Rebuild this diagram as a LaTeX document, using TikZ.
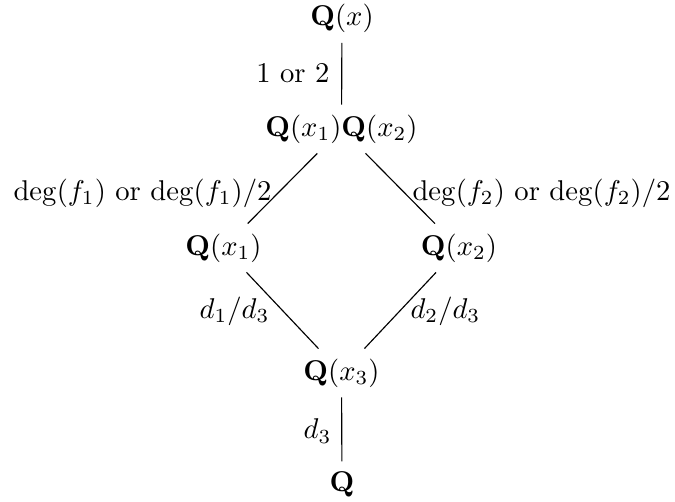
\documentclass[tikz,border=0pt]{standalone}
\begin{document}
\begin{tikzpicture}[x=0.3497pt,y=-0.3497pt,
  field/.style={inner sep=3.33pt},
  lab/.style={inner sep=0pt},
  conn/.style={draw=black, line width=0.4pt}]
\useasboundingbox (0,0) rectangle (675,502);
\node[field] (Qx) at (342,18.5) {$\mathbf{Q}(x)$};
\node[field] (Q12) at (341.5,129) {$\mathbf{Q}(x_1)\mathbf{Q}(x_2)$};
\node[field] (Q1) at (223.5,248) {$\mathbf{Q}(x_1)$};
\node[field] (Q2) at (459,248) {$\mathbf{Q}(x_2)$};
\node[field] (Q3) at (341.5,373) {$\mathbf{Q}(x_3)$};
\node[field] (Q) at (342,484) {$\mathbf{Q}$};
\draw[conn] (Qx) -- (Q12);
\draw[conn] (Q12) -- (Q1);
\draw[conn] (Q12) -- (Q2);
\draw[conn] (Q1) -- (Q3);
\draw[conn] (Q2) -- (Q3);
\draw[conn] (Q3) -- (Q);
\node[lab, anchor=east] (l1) at (330,73) {1 or 2};
\node[lab, anchor=east] (l2) at (272,193) {$\deg(f_1)$ or $\deg(f_1)/2$};
\node[lab, anchor=west] (l3) at (412,193) {$\deg(f_2)$ or $\deg(f_2)/2$};
\node[lab, anchor=east] (l4) at (270,311) {$d_1/d_3$};
\node[lab, anchor=west] (l5) at (410,311) {$d_2/d_3$};
\node[lab, anchor=east] (l6) at (332,431) {$d_3$};
\end{tikzpicture}
\end{document}
